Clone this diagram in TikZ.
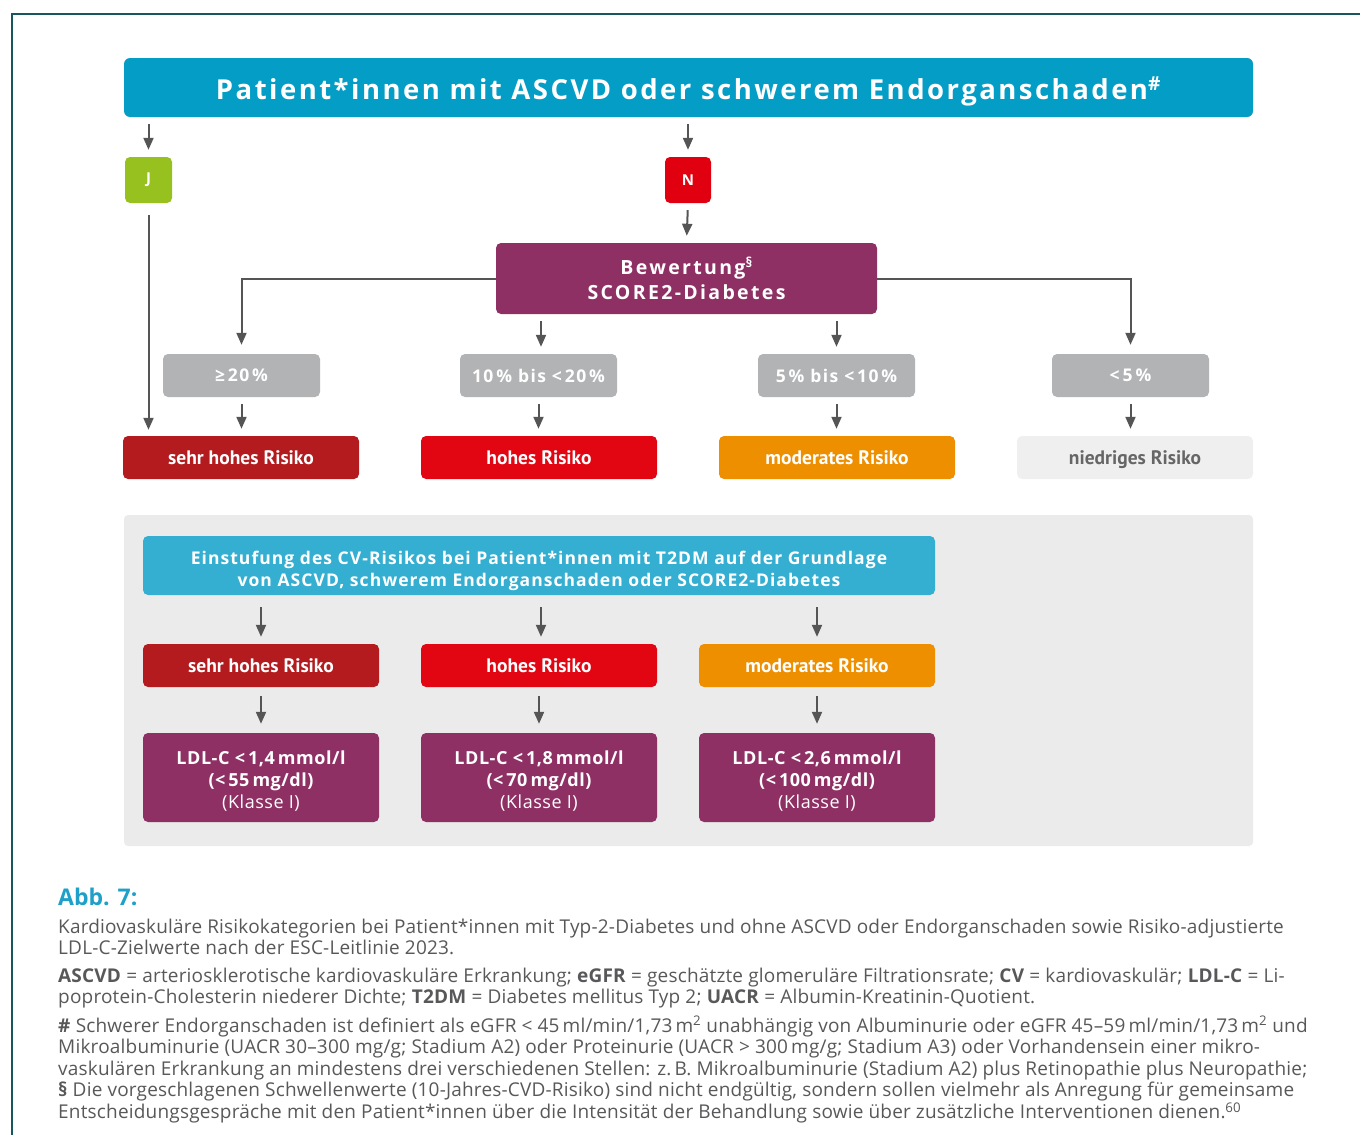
\documentclass[tikz,border=0pt]{standalone}
\usepackage{fontspec}
\setmainfont{Open Sans}
\newfontfamily\myriad{PT Sans}
\usetikzlibrary{arrows.meta}
\definecolor{rahmen}{HTML}{17555F}
\definecolor{titelblau}{HTML}{039DC6}
\definecolor{einstufblau}{HTML}{35AFD1}
\definecolor{jagruen}{HTML}{97C11F}
\definecolor{neinrot}{HTML}{E1000F}
\definecolor{lila}{HTML}{8E3064}
\definecolor{grau}{HTML}{B2B3B5}
\definecolor{hellgrau}{HTML}{EFEFEF}
\definecolor{panelgrau}{HTML}{EBEBEB}
\definecolor{dunkelrot}{HTML}{B31B1E}
\definecolor{rot}{HTML}{E20613}
\definecolor{orange}{HTML}{EE8F00}
\definecolor{pfeilgrau}{HTML}{555555}
\definecolor{textgrau}{HTML}{58585A}
\definecolor{abbblau}{HTML}{1EA0C8}
\tikzset{
  box/.style={rounded corners=5pt, inner sep=0pt, text=white, align=center},
  kasten/.style={box, minimum width=236pt, minimum height=43pt, text height=14pt, text depth=0pt,
    font=\myriad\fontsize{19.5pt}{22pt}\selectfont\bfseries},
  prozent/.style={box, fill=grau, minimum width=157pt, minimum height=43pt,
    font=\fontsize{17.5pt}{20pt}\selectfont\bfseries\addfontfeature{LetterSpace=8}},
  ldl/.style={box, fill=lila, minimum width=236pt, minimum height=89pt,
    font=\fontsize{18pt}{22pt}\selectfont\bfseries\addfontfeature{LetterSpace=3}},
  pfeil/.style={-{Triangle[width=10pt,length=12pt]}, draw=pfeilgrau, line width=2pt,
    shorten <=7pt, shorten >=7pt}
}
\begin{document}
\begin{tikzpicture}[x=1pt,y=-1pt]
\useasboundingbox (0,0) rectangle (1360,1135);
\draw[rahmen, line width=1.5pt] (12,1135) -- (12,14) -- (1360,14);

% Kopf
\node[box, fill=titelblau, minimum width=1129pt, minimum height=59pt, rounded corners=6pt,
  font=\fontsize{27.5pt}{30pt}\selectfont\bfseries\addfontfeature{LetterSpace=9}]
  (titel) at (688.5,87.5) {\rule{0pt}{31pt}Patient*innen mit ASCVD oder schwerem Endorganschaden\textsuperscript{\#}};
\node[box, fill=jagruen, minimum width=47pt, minimum height=46pt, font=\fontsize{15pt}{20pt}\selectfont\bfseries]
  (ja) at (148.5,180) {J};
\node[box, fill=neinrot, minimum width=46pt, minimum height=46pt, font=\fontsize{15pt}{20pt}\selectfont\bfseries]
  (nein) at (688,180) {N};
\node[box, fill=lila, minimum width=381pt, minimum height=71pt,
  font=\fontsize{19.5pt}{25pt}\selectfont\bfseries\addfontfeature{LetterSpace=12}]
  (bewertung) at (686.5,278.5) {Bewertung\textsuperscript{\S}\\SCORE2-Diabetes};

% Prozentbereiche
\node[prozent] (p20) at (241.5,375.5) {≥\,20\,\%};
\node[prozent] (p10) at (538.5,375.5) {10\,\% bis <\,20\,\%};
\node[prozent] (p5) at (836.5,375.5) {5\,\% bis <\,10\,\%};
\node[prozent] (p0) at (1130.5,375.5) {<\,5\,\%};

% Risiko
\node[kasten, fill=dunkelrot] (rsh) at (241,457.5) {sehr hohes Risiko};
\node[kasten, fill=rot] (rh) at (539,457.5) {hohes Risiko};
\node[kasten, fill=orange] (rm) at (837,457.5) {moderates Risiko};
\node[kasten, fill=hellgrau, text=pfeilgrau!90!white] (rn) at (1135,457.5) {niedriges Risiko};

\draw[pfeil] (titel.south -| ja) -- (ja.north);
\draw[pfeil] (titel.south -| nein) -- (nein.north);
\draw[pfeil] (nein.south) -- (bewertung.north);
\draw[pfeil, shorten <=12pt, shorten >=6pt] (ja.south) -- (ja.south |- rsh.north);
\draw[pfeil, shorten <=0pt, shorten >=9pt] (bewertung.west) -| (p20.north);
\draw[pfeil, shorten <=0pt, shorten >=9pt] (bewertung.east) -| (p0.north);
\draw[pfeil] (bewertung.south -| 541,0) -- (541,0 |- p10.north);
\draw[pfeil] (bewertung.south -| p5) -- (p5.north);
\foreach \a/\b in {p20/rsh, p10/rh, p5/rm, p0/rn}
  \draw[pfeil] (\a.south) -- (\a.south |- \b.north);

% Zielwerte
\fill[panelgrau, rounded corners=4pt] (124,515) rectangle (1253,846);
\node[box, fill=einstufblau, minimum width=792pt, minimum height=59pt,
  font=\fontsize{17.5pt}{22pt}\selectfont\bfseries\addfontfeature{LetterSpace=6}]
  (einstufung) at (539,565.5) {\rule{0pt}{24pt}Einstufung des CV-Risikos bei Patient*innen mit T2DM auf der Grundlage\\von ASCVD, schwerem Endorganschaden oder SCORE2-Diabetes};
\node[kasten, fill=dunkelrot] (ksh) at (261,665.5) {sehr hohes Risiko};
\node[kasten, fill=rot] (kh) at (539,665.5) {hohes Risiko};
\node[kasten, fill=orange] (km) at (817,665.5) {moderates Risiko};
\node[ldl] (ldla) at (261,777.5) {\rule{0pt}{21pt}LDL-C <\,1,4\,mmol/l\\(<\,55\,mg/dl)\\{\mdseries(Klasse I)}};
\node[ldl] (ldlb) at (539,777.5) {\rule{0pt}{21pt}LDL-C <\,1,8\,mmol/l\\(<\,70\,mg/dl)\\{\mdseries(Klasse I)}};
\node[ldl] (ldlc) at (817,777.5) {\rule{0pt}{21pt}LDL-C <\,2,6\,mmol/l\\(<\,100\,mg/dl)\\{\mdseries(Klasse I)}};
\draw[pfeil, shorten <=12pt] (einstufung.south -| ksh) -- (ksh.north);
\draw[pfeil, shorten <=12pt] (einstufung.south -| 541,0) -- (541,0 |- kh.north);
\draw[pfeil, shorten <=12pt] (einstufung.south -| km) -- (km.north);
\foreach \a/\b in {ksh/ldla, kh/ldlb, km/ldlc}
  \draw[pfeil, shorten <=9pt, shorten >=9pt] (\a.south) -- (\b.north);

% Legende
\node[anchor=base west, inner sep=0pt, text=abbblau, font=\fontsize{23pt}{26pt}\selectfont\bfseries]
  (abb) at (58,905) {Abb. 7:};
\node[anchor=north west, inner sep=0pt, align=left, text=textgrau,
  font=\fontsize{19pt}{21.6pt}\selectfont\addfontfeature{LetterSpace=1}]
  (legende) at (58,918.5) {Kardiovaskuläre Risikokategorien bei Patient*innen mit Typ-2-Diabetes und ohne ASCVD oder Endorganschaden sowie Risiko-adjustierte\\
LDL-C-Zielwerte nach der ESC-Leitlinie 2023.\\[6pt]
\textbf{ASCVD} = arteriosklerotische kardiovaskuläre Erkrankung; \textbf{eGFR} = geschätzte glomeruläre Filtrationsrate; \textbf{CV} = kardiovaskulär; \textbf{LDL-C} = Li-\\
poprotein-Cholesterin niederer Dichte; \textbf{T2DM} = Diabetes mellitus Typ 2; \textbf{UACR} = Albumin-Kreatinin-Quotient.\\[6.5pt]
\textbf{\#} Schwerer Endorganschaden ist definiert als eGFR < 45\,ml/min/1,73\,m\textsuperscript{2} unabhängig von Albuminurie oder eGFR 45–59\,ml/min/1,73\,m\textsuperscript{2} und\\
Mikroalbuminurie (UACR 30–300 mg/g; Stadium A2) oder Proteinurie (UACR > 300\,mg/g; Stadium A3) oder Vorhandensein einer mikro-\\
vaskulären Erkrankung an mindestens drei verschiedenen Stellen: z.\,B. Mikroalbuminurie (Stadium A2) plus Retinopathie plus Neuropathie;\\
\textbf{\S} Die vorgeschlagenen Schwellenwerte (10-Jahres-CVD-Risiko) sind nicht endgültig, sondern sollen vielmehr als Anregung für gemeinsame\\
Entscheidungsgespräche mit den Patient*innen über die Intensität der Behandlung sowie über zusätzliche Interventionen dienen.\textsuperscript{60}};
\end{tikzpicture}
\end{document}
